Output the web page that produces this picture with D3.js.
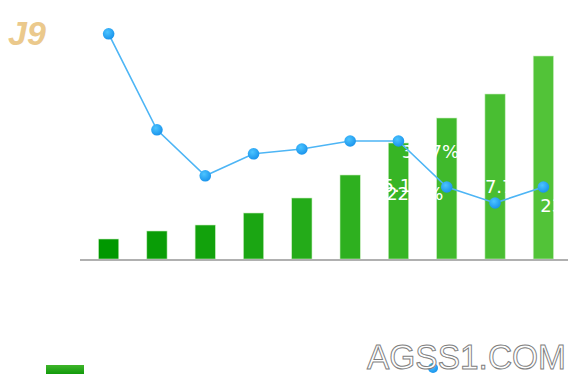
<!DOCTYPE html>
<html>
<head>
<meta charset="utf-8">
<script src="https://cdn.jsdelivr.net/npm/d3@7"></script>
<style>
  body { margin: 0; background: #fff; }
  svg { display: block; font-family: "Liberation Sans", Arial, sans-serif; }
</style>
</head>
<body>
<div class="chart"></div>
<script>
var width = 576;
var height = 378;

// data
var categories = ['2008', '2009', '2010', '2011', '2012', '2013', '2014', '2015', '2016', '2017'];
var barValues = [20, 28, 34, 46, 61, 84, 116, 141, 165, 203];
var lineValues = [56.3, 32.3, 20.8, 26.3, 27.5, 29.5, 29.5, 18.0, 14.0, 18.0];
var lineLabels = ['', '', '', '', '', '25.1', '31.7%', '22.5%', '27.7%', '23'];

var margin = {top: 19, right: 8, bottom: 119, left: 80};

var svg = d3.select('div.chart').append('svg')
    .attr('width', width)
    .attr('height', height);

var defs = svg.append('defs');
var dotGrad = defs.append('radialGradient')
    .attr('id', 'dotGrad')
    .attr('cx', '40%').attr('cy', '35%').attr('r', '65%');
dotGrad.append('stop').attr('offset', '0%').attr('stop-color', '#4cc4ff');
dotGrad.append('stop').attr('offset', '100%').attr('stop-color', '#1a94ec');

var legendGrad = defs.append('linearGradient')
    .attr('id', 'legendGrad')
    .attr('x1', 0).attr('y1', 0).attr('x2', 0).attr('y2', 1);
legendGrad.append('stop').attr('offset', '0%').attr('stop-color', '#3fb52a');
legendGrad.append('stop').attr('offset', '100%').attr('stop-color', '#129a0c');

//scales
var x_scale = d3.scaleBand()
    .domain(categories)
    .range([margin.left + 4, width - margin.right])
    .paddingInner(0.58)
    .paddingOuter(0.3);

var y_scale = d3.scaleLinear()
    .domain([0, 220])
    .range([height - margin.bottom, margin.top + 20]);

var y2_scale = d3.scaleLinear()
    .domain([0, 60])
    .range([height - margin.bottom, margin.top]);

var colorScale = d3.scaleLinear()
    .domain([0, categories.length - 1])
    .range(['#009800', '#52c338'])
    .interpolate(d3.interpolateRgb);

// logo
svg.append('text')
    .attr('x', 8)
    .attr('y', 45)
    .style('font-size', '34px')
    .style('font-weight', 'bold')
    .style('font-style', 'italic')
    .style('fill', '#ebc98c')
    .text('J9');

// bars
svg.append('g')
    .selectAll('rect')
    .data(barValues)
    .enter()
    .append('rect')
    .attr('x', function(d, i){ return x_scale(categories[i]) })
    .attr('y', function(d){ return y_scale(d) })
    .attr('width', x_scale.bandwidth())
    .attr('height', function(d){ return y_scale(0) - y_scale(d) })
    .attr('fill', function(d, i){ return colorScale(i) })
    .attr('stroke', '#c9eec0')
    .attr('stroke-width', 0.6);

// axis line
var x_axis = d3.axisBottom(x_scale).tickSize(0).tickFormat('');
svg.append('g')
    .attr('class', 'x-axis')
    .attr('transform', 'translate(0,' + (y_scale(0) + 1) + ')')
    .call(x_axis)
    .call(function(g){
        g.select('.domain')
            .attr('d', 'M' + margin.left + ',0H' + (width - margin.right))
            .attr('stroke', '#b0b0b0')
            .attr('stroke-width', 2);
    });

var cx = function(d, i){ return x_scale(categories[i]) + x_scale.bandwidth() / 2 };

// labels (white, under the line)
var labelDx = [0, 0, 0, 0, 0, 41, 32, -32, 7, -3];
var labelDy = [0, 0, 0, 0, 0, 51, 17, 13, -10, 25];
svg.append('g')
    .selectAll('text')
    .data(lineValues)
    .enter()
    .append('text')
    .attr('x', function(d, i){ return cx(d, i) + labelDx[i] })
    .attr('y', function(d, i){ return y2_scale(d) + labelDy[i] })
    .attr('text-anchor', function(d, i){ return i == 9 ? 'start' : 'middle' })
    .style('font-family', '"DejaVu Sans", sans-serif')
    .style('font-size', '18px')
    .style('fill', '#ffffff')
    .text(function(d, i){ return lineLabels[i] });

// line
var line = d3.line()
    .x(cx)
    .y(function(d){ return y2_scale(d) });

svg.append('path')
    .datum(lineValues)
    .attr('d', line)
    .attr('fill', 'none')
    .attr('stroke', '#4db5f5')
    .attr('stroke-width', 1.6);

svg.append('g')
    .selectAll('circle')
    .data(lineValues)
    .enter()
    .append('circle')
    .attr('cx', cx)
    .attr('cy', function(d){ return y2_scale(d) })
    .attr('r', 5.8)
    .attr('fill', 'url(#dotGrad)');

// legend
svg.append('rect')
    .attr('x', 46)
    .attr('y', 365)
    .attr('width', 38)
    .attr('height', 9)
    .attr('fill', 'url(#legendGrad)');
svg.append('circle')
    .attr('cx', 433)
    .attr('cy', 368)
    .attr('r', 5)
    .attr('fill', 'url(#dotGrad)');

// watermark
svg.append('text')
    .attr('x', 367)
    .attr('y', 369)
    .attr('textLength', 199)
    .attr('lengthAdjust', 'spacingAndGlyphs')
    .style('font-size', '35px')
    .style('fill', '#ffffff')
    .style('stroke', '#808080')
    .style('stroke-width', 1)
    .text('AGSS1.COM');
</script>
</body>
</html>
